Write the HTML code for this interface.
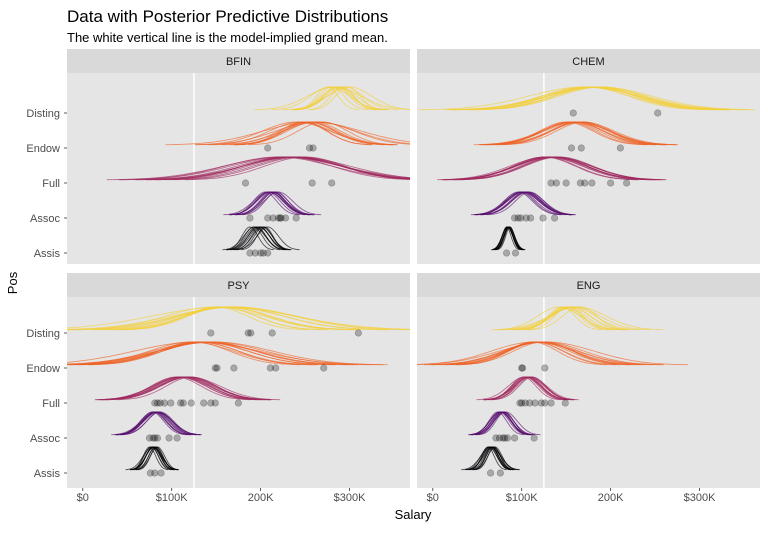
<!DOCTYPE html>
<html><head><meta charset="utf-8"><style>
body{margin:0;background:#fff;font-family:"Liberation Sans",sans-serif}
svg text{font-family:"Liberation Sans",sans-serif}
</style></head><body>
<svg id="c" width="768" height="528" xmlns="http://www.w3.org/2000/svg">
<text x="67" y="22" font-size="17" fill="#000">Data with Posterior Predictive Distributions</text>
<text x="67" y="42" font-size="13" fill="#000">The white vertical line is the model-implied grand mean.</text>
<text x="413" y="519" font-size="13" text-anchor="middle">Salary</text>
<text x="17" y="283" font-size="13" text-anchor="middle" transform="rotate(-90 17 283)">Pos</text>
</svg>
<script>
const panels=["BFIN","CHEM","PSY","ENG"];
const positions=["Disting","Endow","Full","Assoc","Assis"];
const xTicks=[0,100,200,300];
const xTickLabels=["$0","$100K","200K","$300K"];
const grandMean=125;
const colors=["#F3CF3A","#EE6326","#A02A60","#57106E","#000004"];
const mu={
BFIN:[[275,280,285,290,295,300,283,292,288,278,298,286],[250,255,260,245,265,258,252,248,262,256,270,240],[230,235,240,225,245,238,232,228,242,236,250,220],[205,208,210,212,214,216,218,220,210,213,209,215],[188,192,195,198,200,202,205,208,196,199,193,203]],
CHEM:[[175,180,185,170,190,178,182,188,172,183,176,186],[150,155,158,160,162,165,168,170,157,163,153,166],[125,130,132,135,138,140,128,136,133,142,127,137],[96,99,101,103,105,107,109,100,104,102,98,106],[83,84,85,86,87,84,85,86,85,84,86,85]],
PSY:[[150,155,160,165,170,158,162,148,172,157,163,168],[125,130,135,140,145,128,138,132,142,136,148,122],[105,108,110,113,115,118,120,122,112,116,110,119],[78,80,82,84,86,83,81,85,79,87,83,82],[75,77,78,79,80,81,82,83,79,80,78,84]],
ENG:[[145,150,152,155,158,160,163,148,156,165,142,153],[112,115,118,120,122,125,128,116,121,119,124,114],[102,104,106,108,110,112,105,109,107,111,103,108],[73,75,76,77,78,79,80,81,82,77,76,79],[62,64,65,66,67,68,69,63,66,65,67,70]]};
const sd={
BFIN:[[12,14,15,18,20,25,30,13,16,22,14,17],[25,28,30,35,40,55,32,26,45,30,28,38],[50,55,60,66,48,52,58,62,50,55,45,60],[13,14,15,16,14,15,13,16,15,14,17,13],[9,10,11,12,10,11,9,12,10,11,12,10]],
CHEM:[[45,50,55,62,48,52,45,58,50,47,53,49],[30,32,35,38,30,33,36,31,34,37,30,32],[35,38,40,42,36,39,41,37,40,38,35,42],[16,17,18,19,17,18,16,19,17,18,16,17],[5,6,5,6,5,6,5,6,5,6,5,6]],
PSY:[[35,40,50,60,70,80,45,55,65,38,48,58],[40,45,50,55,60,70,48,42,52,58,65,47],[28,30,32,33,29,31,34,28,30,32,29,31],[13,14,15,16,14,15,13,16,14,15,17,14],[7,8,7,8,9,7,8,7,8,9,10,8]],
ENG:[[15,18,20,22,25,28,32,17,21,19,24,16],[28,32,35,38,42,45,53,30,36,40,33,48],[14,15,16,17,18,15,16,17,14,16,18,15],[10,11,12,11,10,12,11,10,13,11,12,10],[7,8,9,7,10,8,7,9,8,11,7,8]]};
const obs={
BFIN:[[],[208,255,259],[183,258,280],[188,208,214,220,222,223,228,240],[188,194,200,203,208]],
CHEM:[[158,253],[156,167,211],[133,139,150,166,171,179,200,218],[92,96,99,105,110,124,137],[83,93]],
PSY:[[144,186,189,213,310],[149,151,170,211,217,271],[81,84,87,92,99,110,113,122,136,144,149,175],[75,79,81,84,97,106],[76,81,88]],
ENG:[[],[100,101,126],[98,100,104,109,115,122,126,133,149],[71,75,79,81,84,92,114],[65,76]]};

const svg=document.getElementById('c');
const NS="http://www.w3.org/2000/svg";
function mk(t,a){const e=document.createElementNS(NS,t);for(const k in a)e.setAttribute(k,a[k]);return e;}
const layout={BFIN:[67,73,40],CHEM:[417,73,40],PSY:[67,297,36],ENG:[417,297,36]};
const PW=343,PH=191;
panels.forEach((p,pi)=>{
  const [px,py,off]=layout[p];
  const x0=px+15.8, k=0.889;
  const xs=v=>x0+v*k;
  const ys=i=>py+off+i*35;
  const strip=mk('rect',{x:px,y:py-24,width:PW,height:24,fill:'#D9D9D9'});
  
  
  svg.appendChild(strip);
  const st=mk('text',{x:px+PW/2,y:py-8,'font-size':11,'text-anchor':'middle',fill:'#1a1a1a'});
  st.textContent=p;
  
  
  svg.appendChild(st);
  const g=mk('g',{});
  
  
  svg.appendChild(g);
  const clipId='cl'+pi;
  const cp=mk('clipPath',{id:clipId});cp.appendChild(mk('rect',{x:px,y:py,width:PW,height:PH}));g.appendChild(cp);
  const bg=mk('rect',{x:px,y:py,width:PW,height:PH,fill:'#E5E5E5'});
  
  
  g.appendChild(bg);
  const inner=mk('g',{'clip-path':'url(#'+clipId+')'});g.appendChild(inner);
  const gm=mk('line',{x1:xs(grandMean),x2:xs(grandMean),y1:py,y2:py+PH,stroke:'#fff','stroke-width':1.5});
  
  
  inner.appendChild(gm);
  positions.forEach((pos,ri)=>{
    const base=ys(ri)-3;
    mu[p][ri].forEach((m,di)=>{
      const s=sd[p][ri][di];
      let d='';
      for(let j=0;j<=60;j++){const z=-3+j*0.1;const v=m+z*s;const y=base-23*Math.exp(-z*z/2);d+=(j?'L':'M')+xs(v).toFixed(1)+','+y.toFixed(1);}
      const path=mk('path',{d:d,fill:'none',stroke:colors[ri],'stroke-opacity':0.65,'stroke-width':0.9});
      
      
      inner.appendChild(path);
    });
    obs[p][ri].forEach(v=>{
      const c=mk('circle',{cx:xs(v),cy:ys(ri),r:3.3,fill:'#000','fill-opacity':0.27,stroke:'#000','stroke-opacity':0.27,'stroke-width':0.6});
      
      
      inner.appendChild(c);
    });
    if(pi%2===0){
      const t=mk('text',{x:60,y:ys(ri)+4,'font-size':11,'text-anchor':'end',fill:'#4d4d4d'});
      t.textContent=pos;
      
      
      svg.appendChild(t);
      const tk=mk('line',{x1:64,x2:67,y1:ys(ri),y2:ys(ri),stroke:'#333','stroke-width':0.8});
      
      
      svg.appendChild(tk);
    }
  });
  if(pi>=2){
    xTicks.forEach((v,ti)=>{
      const tk=mk('line',{x1:xs(v),x2:xs(v),y1:py+PH,y2:py+PH+3,stroke:'#333','stroke-width':0.8});
      
      
      svg.appendChild(tk);
      const t=mk('text',{x:xs(v),y:py+PH+13,'font-size':11,'text-anchor':'middle',fill:'#4d4d4d'});
      t.textContent=xTickLabels[ti];
      
      
      svg.appendChild(t);
    });
  }
});
</script>
</body></html>
